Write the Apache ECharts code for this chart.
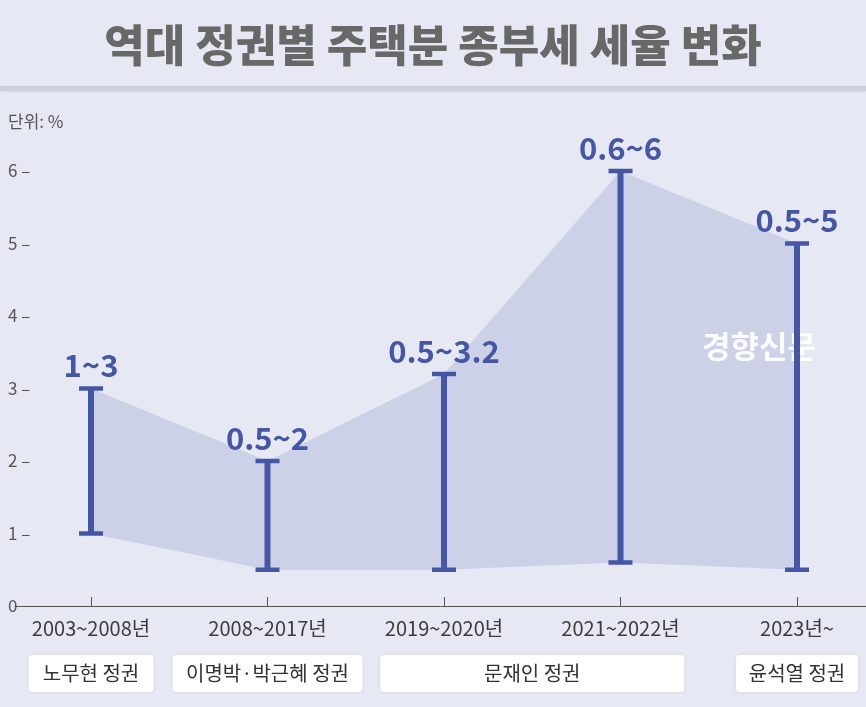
<!DOCTYPE html>
<html><head><meta charset="utf-8">
<script src="https://cdn.jsdelivr.net/npm/echarts@6/dist/echarts.min.js"></script>
<style>html,body{margin:0;padding:0;background:#e6e8f4;}#c{width:866px;height:707px;}</style>
</head><body><div id="c"></div>
<script>
const categories = ['2003~2008년','2008~2017년','2019~2020년','2021~2022년','2023년~'];
const lowRates = [1, 0.5, 0.5, 0.6, 0.5];
const highRates = [3, 2, 3.2, 6, 5];
const rangeLabels = ['1~3','0.5~2','0.5~3.2','0.6~6','0.5~5'];
const yTicks = [0,1,2,3,4,5,6];
const governments = [
  {name:'노무현 정권', from:0, to:0},
  {name:'이명박·박근혜 정권', from:1, to:1},
  {name:'문재인 정권', from:2, to:3},
  {name:'윤석열 정권', from:4, to:4}
];
const FONT = '"Noto Sans CJK KR","Noto Sans",sans-serif';
const BAR = '#4656a6';

const chart = echarts.init(document.getElementById('c'));
const option = {
  backgroundColor:'#e6e8f4',
  animation:false,
  title:{text:'역대 정권별 주택분 종부세 세율 변화', left:'center', top:18,
    textStyle:{fontFamily:FONT, fontSize:44, fontWeight:900, color:'#686868'}},
  graphic:[
    {type:'rect', left:0, top:86, z:10, shape:{width:866,height:5}, style:{fill:'#cdd0de', shadowBlur:3, shadowColor:'rgba(0,0,0,0.08)', shadowOffsetY:1}, silent:true},
    {type:'text', left:8, top:113, z:10, style:{text:'단위: %', font:'17px '+FONT, fill:'#555'}},
    {type:'text', left:702, top:331, z:3, style:{text:'경향신문', font:'bold 31px '+FONT, fill:'rgba(255,255,255,0.92)', shadowBlur:4, shadowColor:'rgba(0,0,0,0.25)'}}
  ],
  grid:[
    {left:91, right:69, top:171, bottom:101},
    {left:15, right:0, top:171, bottom:101}
  ],
  xAxis:[
    {type:'category', data:categories, gridIndex:0, boundaryGap:false,
      axisLine:{show:false},
      axisTick:{show:true, inside:true, length:9, lineStyle:{color:'#555', width:1}},
      axisLabel:{fontFamily:FONT, fontSize:20, color:'#3c3c3c', margin:12, interval:0}},
    {type:'value', gridIndex:1, min:0, max:1, axisLine:{show:true, onZero:false, lineStyle:{color:'#555', width:1}},
      axisTick:{show:false}, axisLabel:{show:false}, splitLine:{show:false}}
  ],
  yAxis:[
    {type:'value', gridIndex:0, min:0, max:6, interval:1, show:false},
    {type:'value', gridIndex:1, min:0, max:6, interval:1,
      axisLine:{show:false}, axisTick:{show:false}, splitLine:{show:false},
      axisLabel:{align:'left', margin:7, fontFamily:FONT, fontSize:17, color:'#555',
        formatter:v => v===0 ? '0' : v + ' –'}}
  ],
  series:[
    {type:'line', stack:'r', data:lowRates, symbol:'none', lineStyle:{opacity:0}, z:2, silent:true},
    {type:'line', stack:'r', data:highRates.map((h,i)=>h-lowRates[i]), symbol:'none', lineStyle:{opacity:0},
      areaStyle:{color:'#ccd1e8', opacity:1}, z:2, silent:true},
    {type:'custom', z:5,
      data:categories.map((c,i)=>[i, lowRates[i], highRates[i]]),
      renderItem:(params, api)=>{
        const lo = api.coord([api.value(0), api.value(1)]);
        const hi = api.coord([api.value(0), api.value(2)]);
        const x = lo[0], capW = 24, t = 4.5, bw = 6;
        const label = rangeLabels[params.dataIndex];
        return {type:'group', children:[
          {type:'rect', shape:{x:x-bw/2, y:hi[1], width:bw, height:lo[1]-hi[1]}, style:{fill:BAR}},
          {type:'rect', shape:{x:x-capW/2, y:hi[1]-t/2, width:capW, height:t}, style:{fill:BAR}},
          {type:'rect', shape:{x:x-capW/2, y:lo[1]-t/2, width:capW, height:t}, style:{fill:BAR}},
          {type:'text', x:x, y:hi[1]-23, style:{text:label, font:'600 31px '+FONT, fill:BAR, align:'center', verticalAlign:'middle'}}
        ]};
      }
    }
  ]
};
chart.setOption(option);

// government boxes positioned from category coordinates
const extra = [];
const widths = [125, 190, 304, 122];
governments.forEach((g,i)=>{
  const x0 = chart.convertToPixel({xAxisIndex:0}, g.from);
  const x1 = chart.convertToPixel({xAxisIndex:0}, g.to);
  const cx = (x0+x1)/2;
  const w = widths[i];
  extra.push({type:'group', left:cx-w/2, top:655, z:10, children:[
    {type:'rect', shape:{x:0,y:0,width:w,height:37,r:4}, style:{fill:'#ffffff', shadowBlur:4, shadowColor:'rgba(0,0,0,0.08)'}},
    {type:'text', x:w/2, y:18.5, style:{text:g.name, font:'20px '+FONT, fill:'#333', align:'center', verticalAlign:'middle'}}
  ]});
});
chart.setOption({graphic: option.graphic.concat(extra)});
</script></body></html>
